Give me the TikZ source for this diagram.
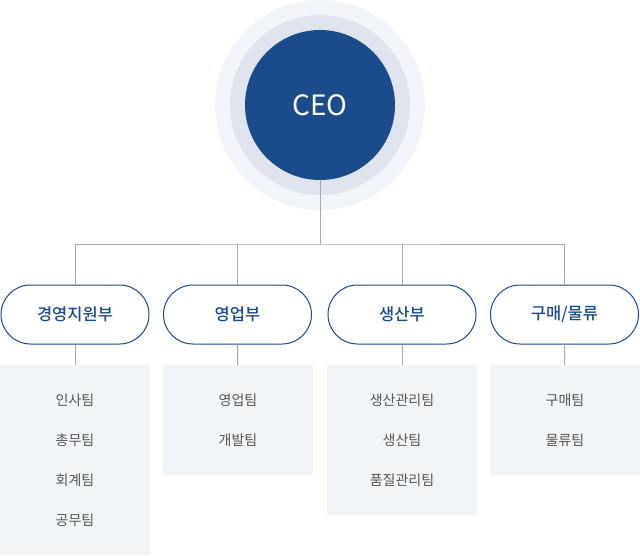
\documentclass[tikz,border=0pt]{standalone}
\usepackage{fontspec}
\usepackage{tikz}
\usepackage{xcolor}
\usetikzlibrary{
    calc,
    positioning
}
\newfontfamily\krfont{Noto Sans CJK KR}
\newfontfamily\krmedium{Noto Sans CJK KR Medium}

\definecolor{ceoblue}{HTML}{1A4B8A}
\definecolor{ringmid}{HTML}{DFE4EE}
\definecolor{ringout}{HTML}{F1F4F8}
\definecolor{boxgray}{HTML}{F2F5F8}
\definecolor{linegray}{HTML}{A8A8A8}
\definecolor{teamtext}{HTML}{555555}

\tikzset{
    ceonode/.style={circle, fill=ceoblue, minimum size=150pt, inner sep=0pt,
        text=white, font=\krfont\fontsize{28}{32}\selectfont},
    dept/.style={draw=ceoblue, line width=1pt, fill=white, rounded corners=29.5pt,
        minimum width=148pt, minimum height=59pt, inner sep=0pt,
        text=ceoblue, font=\krmedium\fontsize{16.5}{20}\selectfont},
    teambox/.style={fill=boxgray, minimum width=150pt, inner sep=0pt, anchor=north},
    team/.style={text=teamtext, inner sep=0pt, font=\krfont\fontsize{14}{18}\selectfont},
    link/.style={draw=linegray, line width=1pt}
}

\begin{document}
\begin{tikzpicture}[x=1pt, y=-1pt]
                        \useasboundingbox (0, 0) rectangle (640, 555);

                        \fill[ringout] (320, 105) circle (105);
                        \fill[ringmid] (320, 105) circle (90);
                        \node[ceonode] (ceo) at (320, 105) {CEO};

                        \node[dept] (d1) at (75, 314.5) {경영지원부};
                        \node[dept] (d2) at (237.5, 314.5) {영업부};
                        \node[dept] (d3) at (402, 314.5) {생산부};
                        \node[dept] (d4) at (564.5, 314.5) {구매/물류};

                        \node[teambox, minimum height=190pt] (b1) at (75, 365) {};
                        \node[teambox, minimum height=110pt] (b2) at (238, 365) {};
                        \node[teambox, minimum height=150pt] (b3) at (402, 365) {};
                        \node[teambox, minimum height=110pt] (b4) at (565, 365) {};

                        \coordinate (bus) at (320, 244);
                        \draw[link] (ceo) -- (bus);
                        \draw[link] (d1.north) |- (bus) -| (d4.north);
                        \draw[link] (d2.north) -- (d2.north |- bus);
                        \draw[link] (d3.north) -- (d3.north |- bus);

                        \draw[link]
                        (d1) edge (b1)
                        (d2) edge (b2)
                        (d3) edge (b3)
                        (d4) edge (b4);

                        \node[team] (t11) at (75, 400) {인사팀};
                        \node[team] (t12) at (75, 440) {총무팀};
                        \node[team] (t13) at (75, 480) {회계팀};
                        \node[team] (t14) at (75, 520) {공무팀};

                        \node[team] (t21) at (238, 400) {영업팀};
                        \node[team] (t22) at (238, 440) {개발팀};

                        \node[team] (t31) at (402, 400) {생산관리팀};
                        \node[team] (t32) at (402, 440) {생산팀};
                        \node[team] (t33) at (402, 480) {품질관리팀};

                        \node[team] (t41) at (565, 400) {구매팀};
                        \node[team] (t42) at (565, 440) {물류팀};
                    \end{tikzpicture}
\end{document}
